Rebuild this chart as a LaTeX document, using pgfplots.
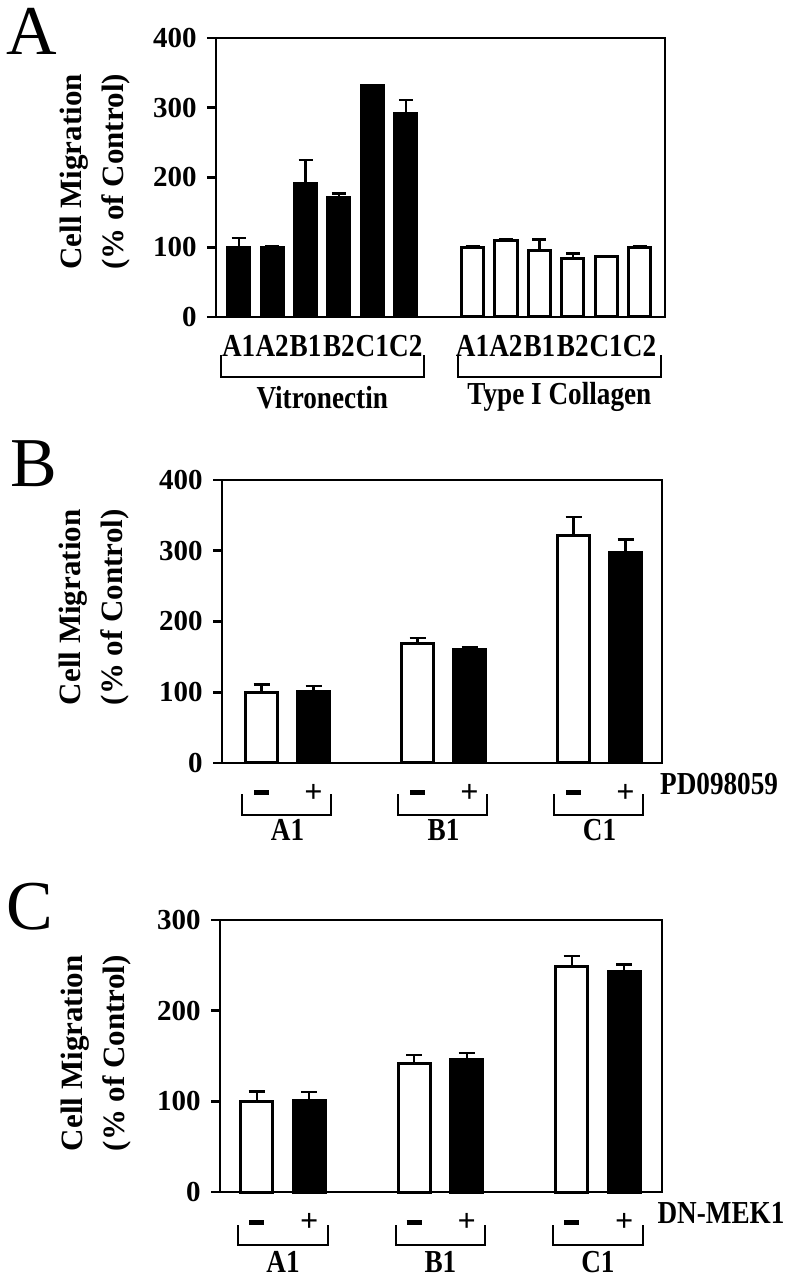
\documentclass[border=0pt]{standalone}
\usepackage{fontspec}
\setmainfont{Liberation Serif}
\usepackage{graphicx}
\usepackage{pgfplots}
\pgfplotsset{compat=1.18}

\newcommand\cond[1]{\scalebox{0.85}[1]{#1}}
\newcommand\lf{\fontsize{16}{16}\selectfont\bfseries}
\newcommand\nf{\fontsize{14.5}{14.5}\selectfont\bfseries}
\newcommand\mn{\rule{7.5pt}{2.5pt}}
\newcommand\pl{{\fontsize{16}{16}\selectfont +}}

\pgfplotsset{
  panel/.style={
    scale only axis, anchor=south west, clip=false,
    axis line style={line width=1.4pt},
    ymin=0,
    ytick pos=left,
    tick align=outside,
    major tick length=4.5pt,
    ytick style={line width=1.3pt, black},
    xtick style={draw=none},
    yticklabel style={font=\nf, anchor=east, inner sep=0pt, xshift=-5pt},
    xticklabel style={font=\lf, anchor=center, inner sep=0pt},
  },
  errs/.style={
    error bars/y dir=plus, error bars/y explicit,
    error bars/error bar style={line width=1.2pt},
    error bars/error mark options={line width=1.2pt, mark size=#1, rotate=90}},
  blackbar/.style={ybar, bar shift=0pt, fill=black, draw=black, line width=1.5pt, errs=#1},
  whitebar/.style={ybar, bar shift=0pt, fill=white, draw=black, line width=1.5pt, errs=#1},
}
\tikzset{
  ylab/.style={rotate=90, align=center, font=\fontsize{15.5}{21}\selectfont\bfseries},
  brk/.style={line width=1pt},
  plab/.style={anchor=base west, inner sep=0pt, font=\fontsize{35}{35}\selectfont},
}

\begin{document}
\begin{tikzpicture}
\path[use as bounding box] (0,0) rectangle (396pt,640pt);

% Panel letters
\node[plab] at (3pt,612.5pt) {A};
\node[plab] at (5pt,396.5pt) {B};
\node[plab] at (3pt,175pt) {C};

% ---------------- Panel A ----------------
\begin{axis}[panel,
  at={(108pt,481.5pt)}, width=224.5pt, height=139.5pt,
  xmin=-0.68, xmax=12.76, ymax=400,
  ytick={0,100,200,300,400},
  yticklabels={0,100,200,300,400},
  xtick={0,1,2,3,4,5,7,8,9,10,11,12},
  xticklabels={\cond{A1},\cond{A2},\cond{B1},\cond{B2},\cond{C1},\cond{C2},\cond{A1},\cond{A2},\cond{B1},\cond{B2},\cond{C1},\cond{C2}},
  xticklabel style={yshift=-10pt},
]
\addplot[blackbar=3.5pt, bar width=0.66] coordinates {
  (0,100) +- (0,13)
  (1,100) +- (0,2)
  (2,192) +- (0,33)
  (3,172) +- (0,5)
  (4,332) +- (0,0)
  (5,292) +- (0,19)
};
\addplot[whitebar=3.5pt, bar width=0.66] coordinates {
  (7,100) +- (0,2)
  (8,109) +- (0,3)
  (9,96) +- (0,15)
  (10,84) +- (0,7)
  (11,87) +- (0,0)
  (12,100) +- (0,2)
};
\node[ylab] at (axis description cs:-0.27,0.52) {Cell Migration\\(\% of Control)};
\draw[brk] (axis cs:-0.53,-54.5) -- (axis cs:-0.53,-86) -- (axis cs:5.56,-86) -- (axis cs:5.56,-54.5);
\draw[brk] (axis cs:6.55,-54.5) -- (axis cs:6.55,-86) -- (axis cs:12.64,-86) -- (axis cs:12.64,-54.5);
\node[font=\lf, inner sep=0pt] at (axis cs:2.5,-115) {\cond{Vitronectin}};
\node[font=\lf, inner sep=0pt] at (axis cs:9.6,-115) {\cond{Type I Collagen}};
\end{axis}

% ---------------- Panel B ----------------
\begin{axis}[panel,
  at={(111pt,258.5pt)}, width=220pt, height=141.5pt,
  xmin=-0.76, xmax=7.7, ymax=400,
  ytick={0,100,200,300,400},
  yticklabels={0,100,200,300,400},
  xtick={0,1,3,4,6,7},
  xticklabels={\mn,\pl,\mn,\pl,\mn,\pl},
  xticklabel style={yshift=-10.5pt},
]
\addplot[whitebar=4pt, bar width=0.61] coordinates {
  (0,100) +- (0,11)
  (3,169) +- (0,7.5)
  (6,322) +- (0,26)
};
\addplot[blackbar=4pt, bar width=0.61] coordinates {
  (1,101) +- (0,8)
  (4,161) +- (0,3)
  (7,297) +- (0,19)
};
\node[ylab] at (axis description cs:-0.29,0.55) {Cell Migration\\(\% of Control)};
\draw[brk] (axis cs:-0.37,-44) -- (axis cs:-0.37,-73.5) -- (axis cs:1.33,-73.5) -- (axis cs:1.33,-44);
\draw[brk] (axis cs:2.63,-44) -- (axis cs:2.63,-73.5) -- (axis cs:4.33,-73.5) -- (axis cs:4.33,-44);
\draw[brk] (axis cs:5.63,-44) -- (axis cs:5.63,-73.5) -- (axis cs:7.33,-73.5) -- (axis cs:7.33,-44);
\node[font=\lf, inner sep=0pt] at (axis cs:0.5,-95) {\cond{A1}};
\node[font=\lf, inner sep=0pt] at (axis cs:3.5,-95) {\cond{B1}};
\node[font=\lf, inner sep=0pt] at (axis cs:6.5,-95) {\cond{C1}};
\node[font=\lf, inner sep=0pt, anchor=west] at (axis description cs:0.995,-0.074) {\cond{PD098059}};
\end{axis}

% ---------------- Panel C ----------------
\begin{axis}[panel,
  at={(110pt,44pt)}, width=221pt, height=136pt,
  xmin=-0.70, xmax=7.72, ymax=300,
  ytick={0,100,200,300},
  yticklabels={0,100,200,300},
  xtick={0,1,3,4,6,7},
  xticklabels={\mn,\pl,\mn,\pl,\mn,\pl},
  xticklabel style={yshift=-10.5pt},
]
\addplot[whitebar=4pt, bar width=0.61] coordinates {
  (0,100) +- (0,11)
  (3,142) +- (0,9)
  (6,249) +- (0,11)
};
\addplot[blackbar=4pt, bar width=0.61] coordinates {
  (1,101) +- (0,9)
  (4,146) +- (0,7)
  (7,243) +- (0,8)
};
\node[ylab] at (axis description cs:-0.28,0.51) {Cell Migration\\(\% of Control)};
\draw[brk] (axis cs:-0.35,-36.4) -- (axis cs:-0.35,-58.4) -- (axis cs:1.35,-58.4) -- (axis cs:1.35,-36.4);
\draw[brk] (axis cs:2.65,-36.4) -- (axis cs:2.65,-58.4) -- (axis cs:4.35,-58.4) -- (axis cs:4.35,-36.4);
\draw[brk] (axis cs:5.65,-36.4) -- (axis cs:5.65,-58.4) -- (axis cs:7.35,-58.4) -- (axis cs:7.35,-36.4);
\node[font=\lf, inner sep=0pt] at (axis cs:0.5,-77) {\cond{A1}};
\node[font=\lf, inner sep=0pt] at (axis cs:3.5,-77) {\cond{B1}};
\node[font=\lf, inner sep=0pt] at (axis cs:6.5,-77) {\cond{C1}};
\node[font=\lf, inner sep=0pt, anchor=west] at (axis description cs:0.989,-0.077) {\cond{DN-MEK1}};
\end{axis}
\end{tikzpicture}
\end{document}
